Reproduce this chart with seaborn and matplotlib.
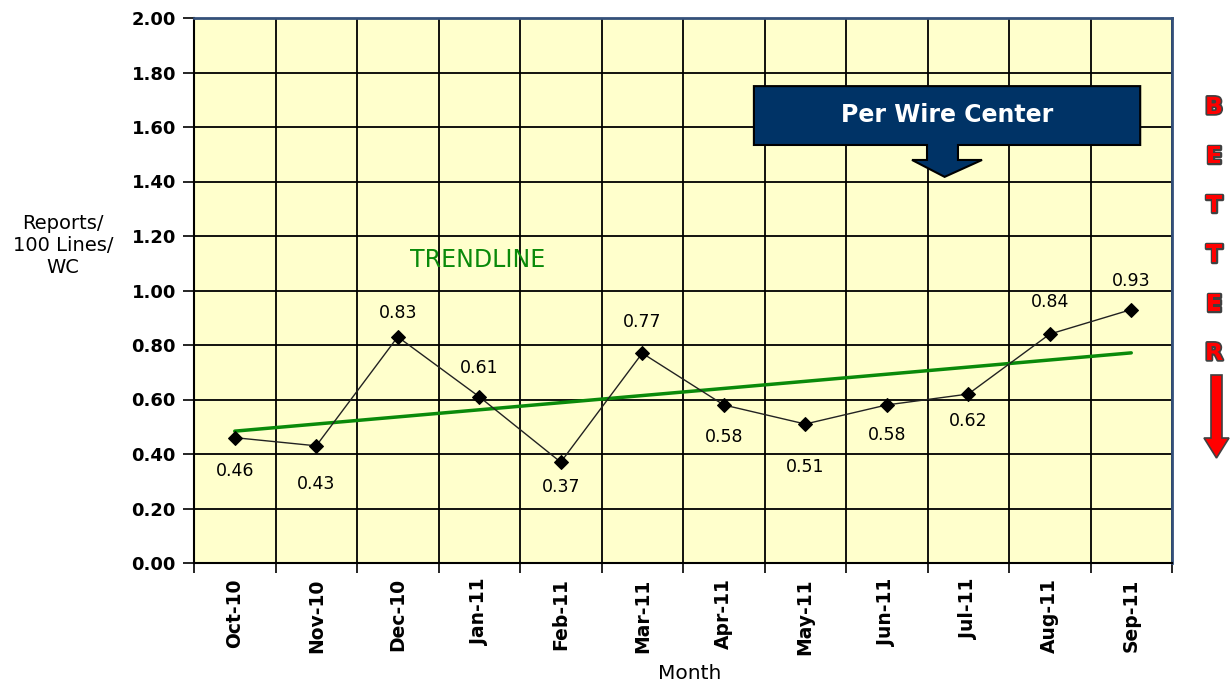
import numpy as np
import pandas as pd
import matplotlib
matplotlib.use("Agg")
import matplotlib.pyplot as plt
import matplotlib.patheffects as pe
from matplotlib.patches import Polygon
import seaborn as sns

months = ['Oct-10', 'Nov-10', 'Dec-10', 'Jan-11', 'Feb-11', 'Mar-11',
          'Apr-11', 'May-11', 'Jun-11', 'Jul-11', 'Aug-11', 'Sep-11']
reports = [0.46, 0.43, 0.83, 0.61, 0.37, 0.77, 0.58, 0.51, 0.58, 0.62, 0.84, 0.93]
y_ticks = [0.0, 0.2, 0.4, 0.6, 0.8, 1.0, 1.2, 1.4, 1.6, 1.8, 2.0]

# vertical shift of each value label in pixels, positive = below the point
label_shift = [33, 38, -24, -29, 25, -31, 32, 43, 30, 27, -32, -29]

sns.set_style('white')
plt.rcParams['font.family'] = 'DejaVu Sans'
plt.rcParams['text.color'] = 'black'
plt.rcParams['axes.labelcolor'] = 'black'
plt.rcParams['xtick.color'] = 'black'
plt.rcParams['ytick.color'] = 'black'

df = pd.DataFrame({'idx': np.arange(len(months)), 'month': months, 'value': reports})

W, H = 1232, 685
fig = plt.figure(figsize=(W / 100, H / 100), dpi=100)
ax = fig.add_axes([194 / W, 1 - 563 / H, 978 / W, 545 / H])
ax.set_facecolor('#FFFFCC')

green = '#0a8a0a'
navy = '#003366'

# trendline fitted by seaborn
sns.regplot(data=df, x='idx', y='value', ax=ax, scatter=False, ci=None, truncate=True,
            line_kws=dict(color=green, lw=2.5, zorder=3))
sns.lineplot(data=df, x='idx', y='value', ax=ax, color='#222222', lw=1, marker='D',
             markersize=7, markeredgecolor='black', markerfacecolor='black', zorder=4)

for i, (v, dy) in enumerate(zip(reports, label_shift)):
    ax.annotate(f'{v:.2f}', (i, v), xytext=(0, -dy), textcoords='offset pixels',
                ha='center', va='center', fontsize=12.5, color='black')

ax.set_xlim(-0.5, len(months) - 0.5)
ax.set_ylim(0, 2)
ax.set_xticks(np.arange(-0.5, len(months), 1))
ax.set_xticklabels([])
ax.set_xticks(df['idx'], minor=True)
ax.set_xticklabels(months, minor=True, rotation=90, fontsize=13.5, fontweight='bold')
ax.tick_params(axis='x', which='minor', length=0, pad=11)
ax.tick_params(axis='x', which='major', bottom=True, length=7, width=1.2, color='black')
ax.set_yticks(y_ticks)
ax.set_yticklabels([f'{t:.2f}' for t in y_ticks], fontsize=13, fontweight='bold')
ax.tick_params(axis='y', left=True, length=8, width=1.2, color='black', pad=5)
ax.grid(True, which='major', color='black', lw=1.3)
ax.set_axisbelow(True)

for s in ['left', 'bottom']:
    ax.spines[s].set_color('black')
    ax.spines[s].set_linewidth(1.5)
for s in ['top', 'right']:
    ax.spines[s].set_color('#34507a')
    ax.spines[s].set_linewidth(2)

ax.set_ylabel('Reports/\n100 Lines/\nWC', rotation=0, fontsize=14, ha='center', va='center',
              linespacing=1.2)
ax.yaxis.set_label_coords(-0.134, 0.583)
ax.set_xlabel('Month', fontsize=14.5, va='center')
ax.xaxis.set_label_coords(0.507, -0.202)

ax.text(2.98, 1.112, 'TRENDLINE', color=green, fontsize=17, ha='center', va='center')

# callout box with its down arrow
callout = [(6.37, 1.75), (11.11, 1.75), (11.11, 1.534), (8.874, 1.534), (8.874, 1.479),
           (9.169, 1.479), (8.71, 1.417), (8.31, 1.479), (8.494, 1.479), (8.494, 1.534),
           (6.37, 1.534)]
ax.add_patch(Polygon(callout, closed=True, fc=navy, ec='black', lw=1.5, zorder=5))
ax.text(8.74, 1.644, 'Per Wire Center', color='white', fontweight='bold', fontsize=17,
        ha='center', va='center', zorder=6)

# BETTER with red arrow on the right
for k, ch in enumerate('BETTER'):
    fig.text(1214 / W, 1 - (107 + 49.2 * k) / H, ch, fontsize=17, fontweight='bold',
             color='red', ha='center', va='center',
             path_effects=[pe.withStroke(linewidth=2.5, foreground='#404040')])

arrow_px = [(1211, 375), (1222, 375), (1222, 438), (1229, 438), (1216.5, 458),
            (1204, 438), (1211, 438)]
fig.add_artist(Polygon([(x / W, 1 - y / H) for x, y in arrow_px], closed=True,
                       transform=fig.transFigure, fc='red', ec='#404040', lw=1.2))

fig.savefig('out.png', dpi=100)
